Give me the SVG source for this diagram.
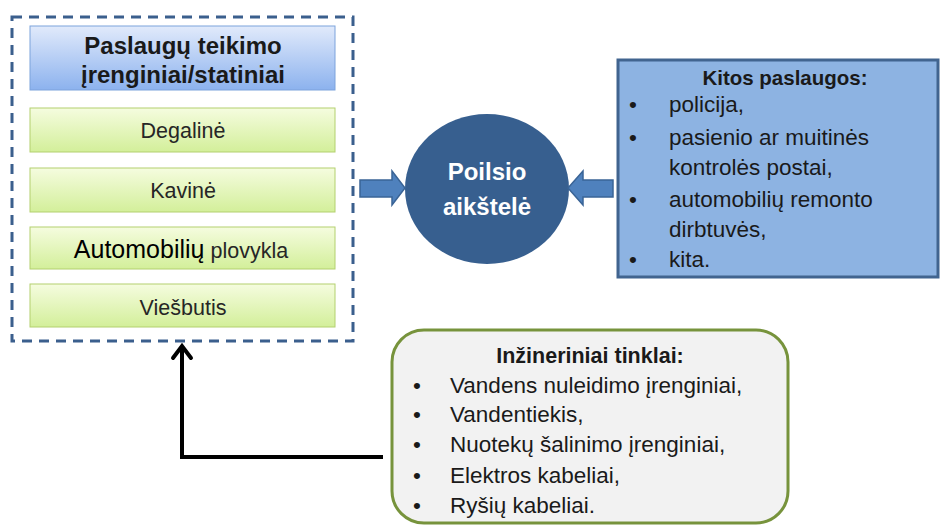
<svg xmlns="http://www.w3.org/2000/svg" width="942" height="526" viewBox="0 0 942 526">
<defs>
<linearGradient id="gBlue" x1="0" y1="0" x2="0" y2="1">
<stop offset="0" stop-color="#e1eafb"/>
<stop offset="1" stop-color="#8cb2ee"/>
</linearGradient>
<linearGradient id="gGreen" x1="0" y1="0" x2="0" y2="1">
<stop offset="0" stop-color="#f5fcdf"/>
<stop offset="1" stop-color="#d3ef9a"/>
</linearGradient>
</defs>
<style>
text{font-family:"Liberation Sans",Arial,sans-serif;fill:#1a1a1a}
.b{font-weight:bold}
.hd{font-size:24px;font-weight:bold;text-anchor:middle}
.gb{fill:url(#gGreen);stroke:#b3d06f;stroke-width:1}
.gt{font-size:21.5px;text-anchor:middle;fill:#262626}
.li{font-size:22.5px}
.blk{fill:#4f81bd;stroke:#3a6496;stroke-width:1.5}
</style>
<g id="facilities">
<rect x="12" y="17" width="341" height="324" fill="none" stroke="#3b5f8d" stroke-width="3" stroke-dasharray="10 7"/>
<g id="header">
<rect x="30" y="26" width="305" height="64" fill="url(#gBlue)" stroke="#7da3dc" stroke-width="1"/>
<text class="hd" x="183" y="54">Paslaugų teikimo</text>
<text class="hd" x="183" y="83">įrenginiai/statiniai</text>
</g>
<g id="degaline">
<rect class="gb" x="30" y="108" width="305" height="44"/>
<text class="gt" x="183" y="138">Degalinė</text>
</g>
<g id="kavine">
<rect class="gb" x="30" y="168" width="305" height="44"/>
<text class="gt" x="183" y="198">Kavinė</text>
</g>
<g id="plovykla">
<rect class="gb" x="30" y="227" width="305" height="42"/>
<text class="gt" x="181" y="258"><tspan font-size="25px" fill="#000">Automobilių</tspan> plovykla</text>
</g>
<g id="viesbutis">
<rect class="gb" x="30" y="284" width="305" height="43"/>
<text class="gt" x="183" y="315">Viešbutis</text>
</g>
</g>
<g id="poilsio">
<ellipse cx="487" cy="189" rx="82" ry="75" fill="#375f8f"/>
<text class="b" x="487" y="180" font-size="24" text-anchor="middle" style="fill:#ffffff">Poilsio</text>
<text class="b" x="487" y="215" font-size="24" text-anchor="middle" style="fill:#ffffff">aikštelė</text>
</g>
<g id="kitos">
<rect x="618" y="60" width="320" height="217" fill="#8db3e2" stroke="#41648f" stroke-width="3"/>
<text class="b" x="785" y="85" font-size="20.5" text-anchor="middle">Kitos paslaugos:</text>
<g class="li">
<text x="629" y="112">•</text><text x="669" y="112">policija,</text>
<text x="629" y="145">•</text><text x="669" y="145">pasienio ar muitinės</text>
<text x="669" y="175">kontrolės postai,</text>
<text x="629" y="207">•</text><text x="669" y="207">automobilių remonto</text>
<text x="669" y="237">dirbtuvės,</text>
<text x="629" y="267">•</text><text x="669" y="267">kita.</text>
</g>
</g>
<g id="inzinerinai">
<rect x="392" y="330" width="396" height="193" rx="32" ry="32" fill="#f2f2f2" stroke="#77933c" stroke-width="3"/>
<text class="b" x="590" y="363" font-size="21.5" text-anchor="middle">Inžineriniai tinklai:</text>
<g class="li">
<text x="413" y="393">•</text><text x="450" y="393">Vandens nuleidimo įrenginiai,</text>
<text x="413" y="422">•</text><text x="450" y="422">Vandentiekis,</text>
<text x="413" y="452">•</text><text x="450" y="452">Nuotekų šalinimo įrenginiai,</text>
<text x="413" y="483">•</text><text x="450" y="483">Elektros kabeliai,</text>
<text x="413" y="513">•</text><text x="450" y="513">Ryšių kabeliai.</text>
</g>
</g>
<g id="connectors">
<path class="blk" d="M360,180 H392 V171 L405,188 L392,205 V197 H360 Z"/>
<path class="blk" d="M613,180 H583 V171 L568,188 L583,205 V197 H613 Z"/>
<path d="M383,457 H182 V346" fill="none" stroke="#000" stroke-width="4"/>
<path d="M173,358 L182,346 L191,358" fill="none" stroke="#000" stroke-width="4" stroke-linecap="round"/>
</g>
</svg>
